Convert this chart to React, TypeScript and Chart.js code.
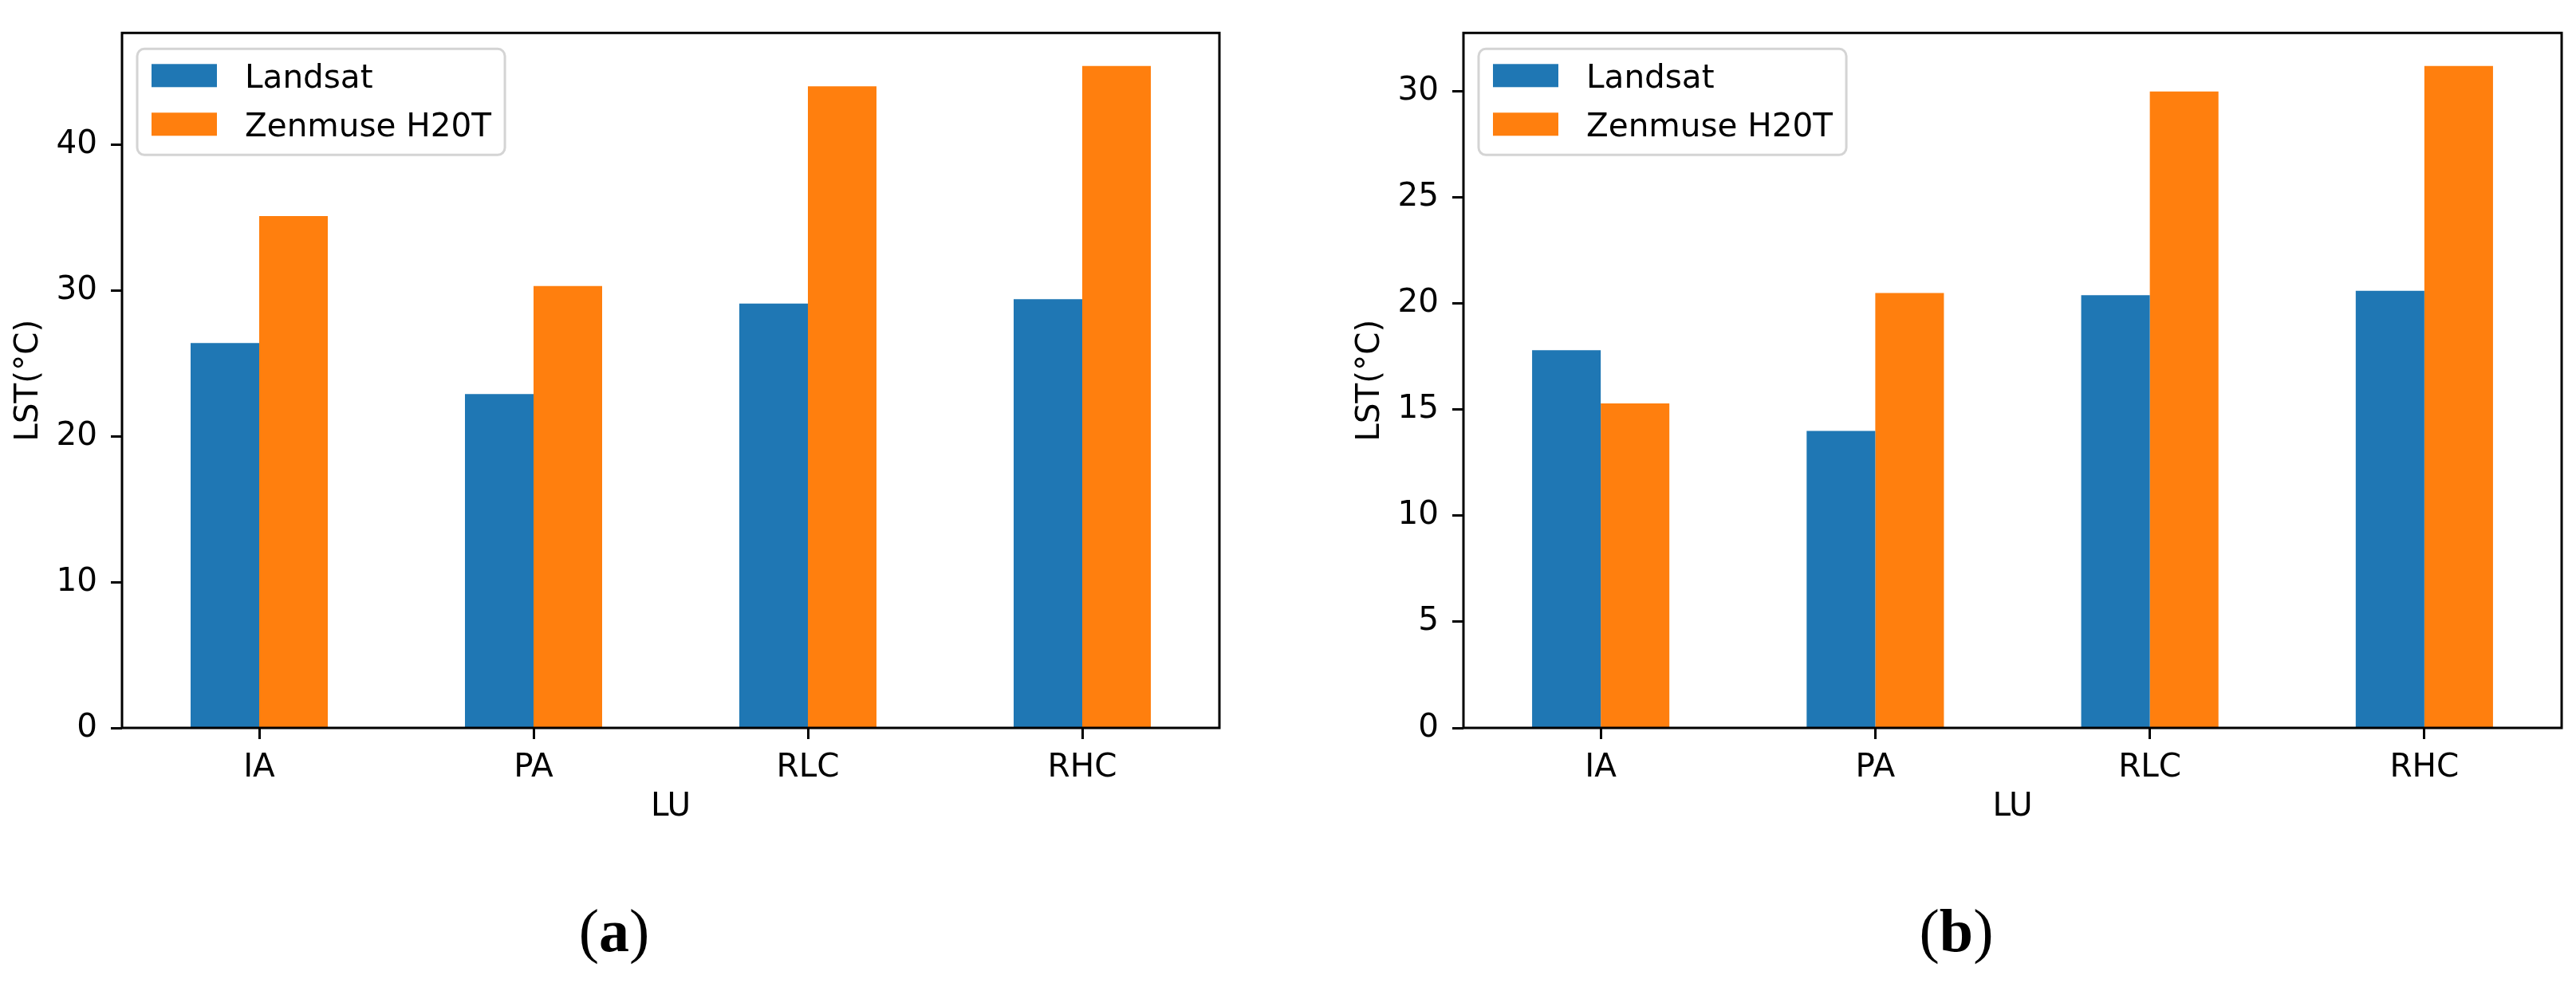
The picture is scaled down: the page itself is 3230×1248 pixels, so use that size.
import React, { useEffect, useRef } from 'react';
import { Chart, registerables } from 'chart.js';

Chart.register(...registerables);

// ---- data ----
const categories = ['IA', 'PA', 'RLC', 'RHC'];
const seriesNames = ['Landsat', 'Zenmuse H20T'];
const seriesColors = ['#1f77b4', '#ff7f0e'];

const landsatA = [26.4, 22.9, 29.1, 29.4];
const zenmuseA = [35.1, 30.3, 44.0, 45.4];
const yTicksA = [0, 10, 20, 30, 40];
const yMaxA = 47.66;

const landsatB = [17.8, 14.0, 20.4, 20.6];
const zenmuseB = [15.3, 20.5, 30.0, 31.2];
const yTicksB = [0, 5, 10, 15, 20, 25, 30];
const yMaxB = 32.76;

const xTitle = 'LU';
const yTitle = 'LST(°C)';
const panelLabels = ['a', 'b'];

const FONT = 'DejaVu Sans';
const FS = 40.5;

const framePlugin = {
  id: 'mplFrame',
  afterDraw(chart: any) {
    const { ctx, chartArea } = chart;
    ctx.save();
    ctx.strokeStyle = '#000';
    ctx.lineWidth = 3;
    ctx.strokeRect(chartArea.left, chartArea.top, chartArea.right - chartArea.left, chartArea.bottom - chartArea.top);
    ctx.restore();
  },
};

const legendPlugin = {
  id: 'mplLegend',
  afterDatasetsDraw(chart: any) {
    const { ctx, chartArea } = chart;
    const items = chart.data.datasets;
    ctx.save();
    ctx.font = `${FS}px "${FONT}"`;
    const textW = Math.max(...items.map((d: any) => ctx.measureText(d.label).width));
    const x0 = chartArea.left + 19;
    const y0 = chartArea.top + 20;
    const w = 135 + textW + 17;
    const h = 133;
    ctx.beginPath();
    if (ctx.roundRect) ctx.roundRect(x0, y0, w, h, 9);
    else ctx.rect(x0, y0, w, h);
    ctx.fillStyle = 'rgba(255,255,255,0.85)';
    ctx.fill();
    ctx.lineWidth = 3;
    ctx.strokeStyle = '#d4d4d4';
    ctx.stroke();
    items.forEach((d: any, i: number) => {
      const ry = y0 + 19 + i * 61;
      ctx.fillStyle = d.backgroundColor;
      ctx.fillRect(x0 + 18, ry, 82, 29);
      ctx.fillStyle = '#000';
      ctx.textAlign = 'left';
      ctx.textBaseline = 'alphabetic';
      ctx.fillText(d.label, x0 + 135, ry + 30);
    });
    ctx.restore();
  },
};

type PanelProps = {
  left: number;
  width: number;
  padRight: number;
  landsat: number[];
  zenmuse: number[];
  yTicks: number[];
  yMax: number;
};

const HEIGHT = 1100;

function Panel({ left, width, padRight, landsat, zenmuse, yTicks, yMax }: PanelProps) {
  const ref = useRef<HTMLCanvasElement | null>(null);
  useEffect(() => {
    if (!ref.current) return;
    const font = { family: FONT, size: FS };
    const gridOpts = {
      drawOnChartArea: false,
      drawTicks: true,
      tickLength: 14,
      tickWidth: 3,
      tickColor: '#000',
    };
    const chart = new Chart(ref.current, {
      type: 'bar',
      data: {
        labels: categories,
        datasets: [
          { label: seriesNames[0], data: landsat, backgroundColor: seriesColors[0], borderWidth: 0, categoryPercentage: 0.5, barPercentage: 1.0 },
          { label: seriesNames[1], data: zenmuse, backgroundColor: seriesColors[1], borderWidth: 0, categoryPercentage: 0.5, barPercentage: 1.0 },
        ],
      },
      options: {
        animation: false,
        responsive: false,
        devicePixelRatio: 1,
        layout: { padding: { left: 0, top: 20, right: padRight, bottom: HEIGHT - 913 - 124 } },
        plugins: { legend: { display: false }, tooltip: { enabled: false }, title: { display: false } },
        scales: {
          x: {
            type: 'category',
            offset: true,
            grid: { ...gridOpts, offset: false },
            border: { display: false },
            ticks: { color: '#000', font, padding: 12, maxRotation: 0, autoSkip: false },
            title: { display: true, text: xTitle, color: '#000', font, padding: { top: 0, bottom: 0 } },
            afterFit: (s: any) => { s.height = 124; },
          },
          y: {
            type: 'linear',
            min: 0,
            max: yMax,
            grid: gridOpts,
            border: { display: false },
            ticks: { color: '#000', font, padding: 17 },
            afterBuildTicks: (s: any) => { s.ticks = yTicks.map((v) => ({ value: v })); },
            title: { display: true, text: yTitle, color: '#000', font, padding: { top: 12, bottom: 0 } },
            afterFit: (s: any) => { s.width = 153; },
          },
        },
      } as any,
      plugins: [legendPlugin, framePlugin],
    });
    return () => chart.destroy();
  }, []);
  return (
    <canvas
      ref={ref}
      width={width}
      height={HEIGHT}
      style={{ position: 'absolute', left, top: 0, width, height: HEIGHT }}
    />
  );
}

function Caption({ cx, letter }: { cx: number; letter: string }) {
  return (
    <div
      style={{
        position: 'absolute',
        left: cx,
        top: 1129,
        transform: 'translateX(-50%)',
        fontFamily: '"Liberation Serif", "DejaVu Serif", serif',
        fontSize: 76,
        lineHeight: '76px',
        whiteSpace: 'nowrap',
        color: '#000',
      }}
    >
      (<b>{letter}</b>)
    </div>
  );
}

export default function App() {
  return (
    <div style={{ position: 'absolute', left: 0, top: 0, width: 3230, height: 1248, background: '#fff', overflow: 'hidden' }}>
      <Panel left={0} width={1615} padRight={86} landsat={landsatA} zenmuse={zenmuseA} yTicks={yTicksA} yMax={yMaxA} />
      <Panel left={1682} width={1548} padRight={18} landsat={landsatB} zenmuse={zenmuseB} yTicks={yTicksB} yMax={yMaxB} />
      <Caption cx={770} letter={panelLabels[0]} />
      <Caption cx={2453} letter={panelLabels[1]} />
    </div>
  );
}
